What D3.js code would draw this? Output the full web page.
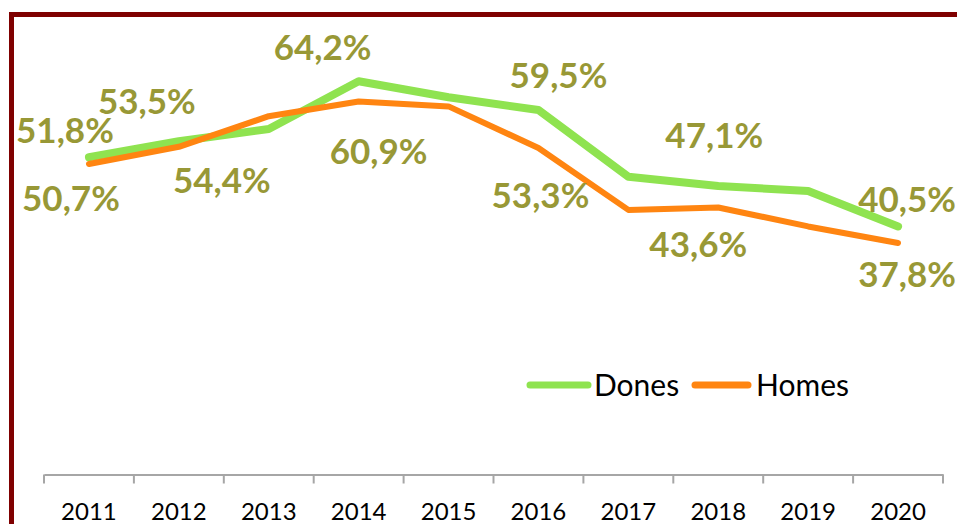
<!DOCTYPE html>
<html>
<head>
	<meta charset="utf-8">
	<title>Dones i homes</title>
	<style type="text/css">
		html, body {
			margin: 0;
			padding: 0;
			background: #fff;
		}
		svg {
			display: block;
		}
	</style>
</head>
<body>
<section></section>
<script src="https://cdn.jsdelivr.net/npm/d3@7"></script>
<script>

// data
var years = ['2011', '2012', '2013', '2014', '2015', '2016', '2017', '2018', '2019', '2020'];
var dones = [51.8, 54.4, 56.4, 64.2, 61.6, 59.5, 48.6, 47.1, 46.3, 40.5];
var homes = [50.7, 53.5, 58.5, 60.9, 60.1, 53.3, 43.2, 43.6, 40.5, 37.8];
var seriesNames = ['Dones', 'Homes'];

// which points carry a value label, and where the label sits relative to its point
var labelsDones = { '2011': [-24, -14], '2012': [43, 52], '2014': [-36, -21], '2016': [20, -22], '2018': [-4, -38], '2020': [9, -14] };
var labelsHomes = { '2011': [-18, 47], '2012': [-32, -33], '2014': [20, 63], '2016': [2, 60], '2018': [-20, 50], '2020': [9, 44] };

var width = 957;
var height = 524;
var colors = { Dones: '#8fe350', Homes: '#ff8511' };
var strokes = { Dones: 8, Homes: 6 };
var labelColor = '#989836';

var svg = d3.select('section').append('svg')
	.attr('width', width)
	.attr('height', height)
	.attr('font-family', 'Lato, sans-serif');

// dark red frame, running off the right and bottom edges
svg.append('rect')
	.attr('x', 11.5)
	.attr('y', 14.5)
	.attr('width', width + 20)
	.attr('height', height + 20)
	.attr('fill', 'none')
	.attr('stroke', '#7f0000')
	.attr('stroke-width', 5);

var x = d3.scaleBand()
	.domain(years)
	.range([44, 943])
	.padding(0);

var y = d3.scaleLinear()
	.domain([0, 70])
	.range([474.5, 474.5 - 70 * 6.125]);

var locale = d3.formatLocale({ decimal: ',', thousands: '.', grouping: [3], currency: ['', ' €'] });
var fmt = locale.format('.1f');

// x axis: labels centred in the bands, ticks on the band edges
var axis = svg.append('g')
	.attr('transform', 'translate(0,' + y(0) + ')')
	.call(d3.axisBottom(x).tickSize(0).tickPadding(28));
axis.select('.domain').attr('stroke', '#a6a6a6').attr('stroke-width', 2);
axis.selectAll('text')
	.attr('font-family', 'Lato, sans-serif')
	.attr('font-size', 24)
	.attr('fill', '#000');

var edges = years.map(function(d) { return x(d); }).concat([x.range()[1]]);
axis.append('g')
	.selectAll('line')
	.data(edges)
	.join('line')
		.attr('x1', function(d) { return d; })
		.attr('x2', function(d) { return d; })
		.attr('y1', 0)
		.attr('y2', 9)
		.attr('stroke', '#a6a6a6')
		.attr('stroke-width', 2);

var series = [
	{ name: seriesNames[0], values: dones, labels: labelsDones },
	{ name: seriesNames[1], values: homes, labels: labelsHomes }
];

var line = d3.line()
	.x(function(d, i) { return x(years[i]) + x.bandwidth() / 2; })
	.y(function(d) { return y(d); });

svg.append('g')
	.attr('fill', 'none')
	.attr('stroke-linejoin', 'round')
	.attr('stroke-linecap', 'round')
	.selectAll('path')
	.data(series)
	.join('path')
		.attr('stroke', function(d) { return colors[d.name]; })
		.attr('stroke-width', function(d) { return strokes[d.name]; })
		.attr('d', function(d) { return line(d.values); });

// value labels
var labelData = [];
series.forEach(function(s) {
	s.values.forEach(function(v, i) {
		var off = s.labels[years[i]];
		if (off) {
			labelData.push({ year: years[i], value: v, dx: off[0], dy: off[1] });
		}
	});
});

svg.append('g')
	.attr('font-size', 35)
	.attr('font-weight', 'bold')
	.attr('fill', labelColor)
	.attr('text-anchor', 'middle')
	.selectAll('text')
	.data(labelData)
	.join('text')
		.attr('x', function(d) { return x(d.year) + x.bandwidth() / 2 + d.dx; })
		.attr('y', function(d) { return y(d.value) + d.dy; })
		.text(function(d) { return fmt(d.value) + '%'; });

// legend
var legend = svg.append('g')
	.selectAll('g')
	.data(series)
	.join('g')
		.attr('transform', function(d, i) { return 'translate(' + (530 + i * 165) + ',385)'; });

legend.append('line')
	.attr('x1', 0)
	.attr('x2', function(d, i) { return i === 0 ? 58 : 53; })
	.attr('stroke', function(d) { return colors[d.name]; })
	.attr('stroke-width', 7)
	.attr('stroke-linecap', 'round');

legend.append('text')
	.attr('x', function(d, i) { return i === 0 ? 64 : 61; })
	.attr('dy', '0.35em')
	.attr('font-size', 30)
	.attr('fill', '#000')
	.text(function(d) { return d.name; });

</script>
</body>
</html>
